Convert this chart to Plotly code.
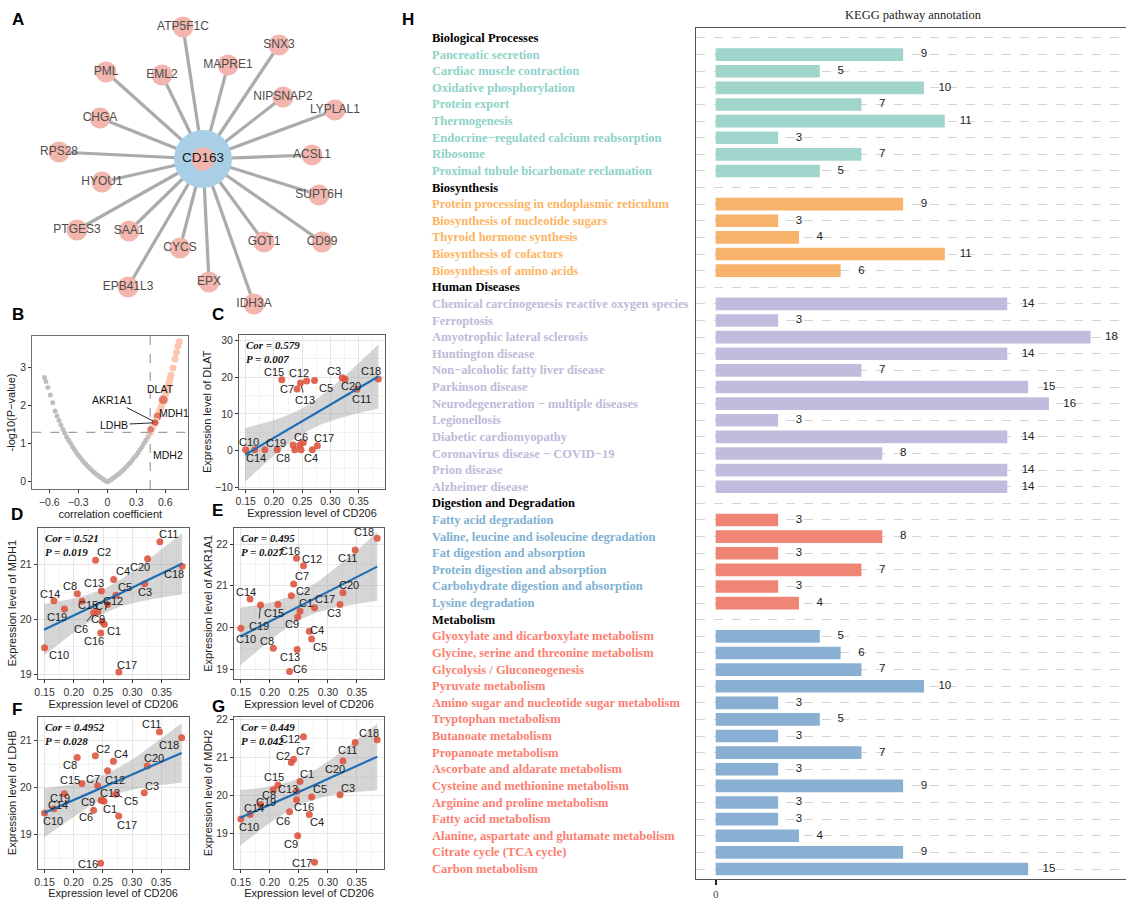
import plotly.graph_objects as go
import math

W, H = 1126, 899
SANS = "Liberation Sans, Arial, sans-serif"
SERIF = "Liberation Serif, Times New Roman, serif"


def xdom(l, r):
    return [l / W, r / W]


def ydom(t, b):
    return [1 - b / H, 1 - t / H]


# ---------------- Panel A : network ----------------
hub_name = "CD163"
hub_xy = [203, 159]
net_genes = ["ATP5F1C", "SNX3", "PML", "EML2", "MAPRE1", "NIPSNAP2", "LYPLAL1", "CHGA",
             "RPS28", "ACSL1", "HYOU1", "SUPT6H", "PTGES3", "SAA1", "CYCS", "GOT1",
             "CD99", "EPB41L3", "EPX", "IDH3A"]
layout_x = [183, 279, 106, 162, 228, 283, 335, 100, 59, 312, 102, 319, 77, 129, 180, 264,
            322, 128, 209, 254]
layout_y = [27, 45, 72, 75, 65, 97, 110, 118, 152, 155, 182, 195, 230, 231, 248, 242,
            242, 287, 282, 304]

# ---------------- Panel B : correlation volcano ----------------
gray_r = [-0.65, -0.635, -0.615, -0.59, -0.565, -0.54, -0.52, -0.50, -0.48, -0.46, -0.44,
          -0.42, -0.40, -0.38, -0.36, -0.34, -0.32, -0.30, -0.28, -0.26, -0.24, -0.22,
          -0.20, -0.18, -0.16, -0.14, -0.12, -0.10, -0.08, -0.06, -0.04, -0.02, 0.00,
          0.02, 0.04, 0.06, 0.08, 0.10, 0.12, 0.14, 0.16, 0.18, 0.20, 0.22, 0.24, 0.26,
          0.28, 0.30, 0.32, 0.34, 0.36, 0.38, 0.40, 0.42, 0.43]
gray_logp = [2.74, 2.64, 2.48, 2.28, 2.08, 1.86, 1.73, 1.61, 1.49, 1.38, 1.28,
             1.18, 1.09, 1.01, 0.92, 0.85, 0.77, 0.70, 0.64, 0.57, 0.51, 0.46,
             0.40, 0.35, 0.30, 0.25, 0.21, 0.17, 0.13, 0.10, 0.06, 0.03, 0.00,
             0.03, 0.06, 0.10, 0.13, 0.17, 0.21, 0.25, 0.30, 0.35, 0.40, 0.46, 0.51, 0.57,
             0.64, 0.70, 0.77, 0.85, 0.92, 1.01, 1.09, 1.18, 1.23]
sig_r = [0.44, 0.45, 0.46, 0.47, 0.48, 0.49, 0.50, 0.51, 0.52, 0.53, 0.54, 0.55, 0.56,
         0.57, 0.58, 0.59, 0.60, 0.61, 0.62, 0.63, 0.64, 0.65, 0.66, 0.68, 0.70, 0.715,
         0.73, 0.745]
sig_logp = [1.28, 1.33, 1.38, 1.44, 1.49, 1.55, 1.61, 1.67, 1.73, 1.79, 1.86, 1.92, 1.99,
            2.06, 2.13, 2.20, 2.28, 2.36, 2.44, 2.52, 2.61, 2.72, 2.80, 2.99, 3.23, 3.40,
            3.57, 3.68]
hl_genes = ["DLAT", "MDH1", "AKR1A1", "LDHB", "MDH2"]
hl_cor = [0.579, 0.521, 0.495, 0.4952, 0.449]
hl_p = [0.007, 0.019, 0.027, 0.028, 0.042]
r_cut = 0.444
p_cut = 0.05

# ---------------- Panels C-G : scatter ----------------
samples = ["C%d" % i for i in range(1, 21)]
cd206 = [0.252, 0.237, 0.321, 0.268, 0.272, 0.234, 0.241, 0.206, 0.248, 0.150,
         0.347, 0.258, 0.247, 0.166, 0.214, 0.246, 0.277, 0.385, 0.184, 0.326]
dlat = [2.2, 0.2, 19.9, 0.2, 19.1, 1.5, 16.8, 0.2, 0.2, 0.2,
        16.7, 19.0, 18.45, 0.2, 19.3, 1.5, 1.3, 19.55, 0.2, 19.45]
mdh1 = [19.91, 21.08, 20.65, 20.73, 20.44, 20.12, 20.14, 20.47, 19.96, 19.48,
        21.42, 20.27, 20.52, 20.34, 20.33, 19.75, 19.04, 20.97, 20.19, 21.11]
akr1a1 = [20.39, 20.76, 20.55, 19.91, 19.72, 18.94, 21.04, 19.50, 20.25, 19.98,
          21.86, 21.48, 19.47, 20.68, 20.55, 21.66, 20.47, 22.14, 20.54, 20.83]
ldhb = [19.71, 20.68, 19.89, 20.56, 19.86, 19.52, 20.04, 20.64, 19.73, 19.46,
        21.19, 20.36, 19.73, 19.55, 20.09, 18.39, 19.40, 21.06, 19.87, 20.46]
mdh2 = [20.36, 20.86, 20.01, 19.49, 19.95, 19.56, 20.95, 20.14, 18.93, 19.37,
        21.39, 21.54, 20.10, 19.49, 20.27, 19.88, 18.23, 21.46, 19.75, 20.90]

fit_x = [0.149, 0.17, 0.20, 0.23, 0.254, 0.28, 0.31, 0.34, 0.36, 0.385]
dlat_fit = [-1.2, 0.7, 3.42, 6.15, 8.32, 10.68, 13.40, 16.12, 17.93, 20.2]
dlat_lo = [-8.5, -5.5, -1.38, 2.37, 4.83, 6.85, 8.51, 9.81, 10.59, 11.47]
dlat_hi = [6.1, 6.9, 8.22, 9.93, 11.81, 14.51, 18.29, 22.43, 25.27, 28.93]
mdh1_fit = [19.81, 19.92, 20.07, 20.23, 20.35, 20.48, 20.64, 20.79, 20.89, 21.02]
mdh1_lo = [19.34, 19.52, 19.76, 19.98, 20.12, 20.24, 20.32, 20.38, 20.42, 20.46]
mdh1_hi = [20.28, 20.32, 20.38, 20.47, 20.57, 20.73, 20.95, 21.20, 21.37, 21.58]
akr_fit = [19.78, 19.93, 20.14, 20.36, 20.53, 20.71, 20.93, 21.14, 21.28, 21.46]
akr_lo = [19.09, 19.34, 19.69, 20.00, 20.20, 20.35, 20.47, 20.54, 20.59, 20.64]
akr_hi = [20.47, 20.52, 20.59, 20.72, 20.86, 21.07, 21.39, 21.74, 21.97, 22.29]
ldhb_fit = [19.46, 19.57, 19.74, 19.90, 20.03, 20.17, 20.33, 20.50, 20.60, 20.74]
ldhb_lo = [18.94, 19.12, 19.39, 19.63, 19.78, 19.89, 19.98, 20.05, 20.07, 20.11]
ldhb_hi = [19.99, 20.02, 20.08, 20.17, 20.28, 20.45, 20.68, 20.95, 21.13, 21.37]
mdh2_fit = [19.40, 19.54, 19.75, 19.95, 20.12, 20.29, 20.50, 20.70, 20.84, 21.01]
mdh2_lo = [18.67, 18.92, 19.27, 19.57, 19.77, 19.90, 20.01, 20.07, 20.10, 20.13]
mdh2_hi = [20.14, 20.16, 20.23, 20.33, 20.47, 20.68, 20.99, 21.34, 21.58, 21.89]

# label offsets (pixels) for the repelled sample labels, C1..C20
offs_c = [None, None, (-8, -7), (-1, 8), (11, 7), (8, -8), (-10, 0), (6, 8), None, (3, -8),
          (5, 10), (-8, -8), (5, 17), (1, 8), (-8, -8), None, (7, -8), (-7, -8), (11, -7), (6, 7)]
offs_d = [(10, 7), (8, -8), (0, 8), (9, -8), (9, -8), (-13, 16), (4, -6), (-7, -8), (-4, -3), (14, 7),
          (9, -8), (5, -4), (-7, -8), (-4, -7), (6, 4), (-7, 8), (8, -7), (-8, 8), (-7, 8), (-8, 8)]
offs_e = [(6, -8), (12, -5), (-6, 8), (8, -1), (8, 8), (10, -3), (8, -8), (-6, -7), (-6, 7), (5, 11),
          (-8, 8), (9, -7), (-7, 8), (-4, -7), (-4, 8), (-7, -7), (10, -9), (-13, -6), (-2, 21), (6, -8)]
offs_f = [(6, 8), (8, -7), (8, -7), (8, -7), (15, 7), (-8, 7), (-5, -7), (-7, 7), (-14, 2), (8, 8),
          (-8, -8), (7, 9), (9, -7), (4, -4), (-12, -3), (-13, 1), (8, 9), (-13, 7), (-4, 4), (7, -8)]
offs_g = [(7, -7), (-8, -7), (8, -7), (8, 8), (8, -8), (-7, 9), (9, -8), (-4, 5), (-7, 8), (8, 8),
          (-8, 8), (-13, 2), (-9, -2), (4, -6), (-4, -8), (7, 7), (-13, 1), (-8, -7), (5, -3), (-8, 8)]

# ---------------- Panel H : KEGG ----------------
group_names = ["Biological Processes", "Biosynthesis", "Human Diseases",
               "Digestion and Degradation", "Metabolism"]
bio_terms = ["Pancreatic secretion", "Cardiac muscle contraction", "Oxidative phosphorylation",
             "Protein export", "Thermogenesis", "Endocrine\u2212regulated calcium reabsorption",
             "Ribosome", "Proximal tubule bicarbonate reclamation"]
bio_counts = [9, 5, 10, 7, 11, 3, 7, 5]
syn_terms = ["Protein processing in endoplasmic reticulum", "Biosynthesis of nucleotide sugars",
             "Thyroid hormone synthesis", "Biosynthesis of cofactors", "Biosynthesis of amino acids"]
syn_counts = [9, 3, 4, 11, 6]
dis_terms = ["Chemical carcinogenesis reactive oxygen species", "Ferroptosis",
             "Amyotrophic lateral sclerosis", "Huntington disease",
             "Non\u2212alcoholic fatty liver disease", "Parkinson disease",
             "Neurodegeneration \u2212 multiple diseases", "Legionellosis",
             "Diabetic cardiomyopathy", "Coronavirus disease \u2212 COVID\u221219",
             "Prion disease", "Alzheimer disease"]
dis_counts = [14, 3, 18, 14, 7, 15, 16, 3, 14, 8, 14, 14]
dig_terms = ["Fatty acid degradation", "Valine, leucine and isoleucine degradation",
             "Fat digestion and absorption", "Protein digestion and absorption",
             "Carbohydrate digestion and absorption", "Lysine degradation"]
dig_counts = [3, 8, 3, 7, 3, 4]
met_terms = ["Glyoxylate and dicarboxylate metabolism", "Glycine, serine and threonine metabolism",
             "Glycolysis / Gluconeogenesis", "Pyruvate metabolism",
             "Amino sugar and nucleotide sugar metabolism", "Tryptophan metabolism",
             "Butanoate metabolism", "Propanoate metabolism", "Ascorbate and aldarate metabolism",
             "Cysteine and methionine metabolism", "Arginine and proline metabolism",
             "Fatty acid metabolism", "Alanine, aspartate and glutamate metabolism",
             "Citrate cycle (TCA cycle)", "Carbon metabolism"]
met_counts = [5, 6, 7, 10, 3, 5, 3, 7, 3, 9, 3, 3, 4, 9, 15]
label_colors = ["#8DD3C7", "#FDB462", "#BEBADA", "#80B1D3", "#FB8072"]
bar_colors = ["#A0D5CB", "#F7B26B", "#C1BCDD", "#EF8675", "#89B0D3"]

# =====================================================
fig = go.Figure()
ann = []
shapes = []

# ---- A
ex, ey = [], []
for gx, gy in zip(layout_x, layout_y):
    ex += [gx, hub_xy[0], None]
    ey += [gy, hub_xy[1], None]
fig.add_trace(go.Scatter(x=ex, y=ey, mode="lines", line=dict(color="#ABABAB", width=3.2),
                         xaxis="x", yaxis="y", hoverinfo="skip"))
fig.add_trace(go.Scatter(x=[hub_xy[0]], y=[hub_xy[1]], mode="markers",
                         marker=dict(size=58, color="#A9CFE7"), xaxis="x", yaxis="y"))
fig.add_trace(go.Scatter(x=[hub_xy[0]], y=[hub_xy[1]], mode="markers+text",
                         marker=dict(size=23, color="#F2B6AE"), text=[hub_name],
                         textposition="middle center",
                         textfont=dict(family=SANS, size=13.5, color="#1a1a1a"),
                         xaxis="x", yaxis="y"))
fig.add_trace(go.Scatter(x=layout_x, y=layout_y, mode="markers+text",
                         marker=dict(size=21, color="#F2B6AE"), text=net_genes,
                         textposition="middle center",
                         textfont=dict(family=SANS, size=12, color="#4D4D4D"),
                         xaxis="x", yaxis="y"))

# ---- B
fig.add_trace(go.Scatter(x=gray_r, y=gray_logp, mode="markers",
                         marker=dict(size=5, color="#BEBEBE"), xaxis="x2", yaxis="y2"))
fig.add_trace(go.Scatter(x=sig_r, y=sig_logp, mode="markers",
                         marker=dict(size=7, color="#FCC6B1"), xaxis="x2", yaxis="y2"))
hl_y = [-math.log10(p) for p in hl_p]
fig.add_trace(go.Scatter(x=hl_cor, y=hl_y, mode="markers",
                         marker=dict(size=[10, 9, 8, 8, 8], color="#DB5A42"),
                         xaxis="x2", yaxis="y2"))
b_offs = [(-3, -11), (16, -3), (-43, -22), (-41, 2), (17, 26)]
b_lead = [False, False, True, True, True]
for g, xv, yv, (ox, oy), ld in zip(hl_genes, hl_cor, hl_y, b_offs, b_lead):
    ann.append(dict(x=xv, y=yv, xref="x2", yref="y2", text=g, showarrow=True, ax=ox, ay=oy,
                    arrowhead=0, arrowwidth=0.9, standoff=2,
                    arrowcolor="#111" if ld else "rgba(0,0,0,0)",
                    font=dict(family=SANS, size=10.5, color="#111")))
shapes.append(dict(type="line", xref="x2", yref="y2 domain", x0=r_cut, x1=r_cut, y0=0, y1=1,
                   line=dict(color="#9E9E9E", width=1.2, dash="dash")))
shapes.append(dict(type="line", xref="x2 domain", yref="y2", x0=0, x1=1,
                   y0=-math.log10(p_cut), y1=-math.log10(p_cut),
                   line=dict(color="#9E9E9E", width=1.2, dash="dash")))

# ---- C-G
panels = [
    (3, "DLAT", dlat, dlat_fit, dlat_lo, dlat_hi, "0.579", "0.007", offs_c, {"C13"},
     [-10.41, 31.56], 10, 5, (239, 385, 335, 488.5)),
    (4, "MDH1", mdh1, mdh1_fit, mdh1_lo, mdh1_hi, "0.521", "0.019", offs_d, {"C6"},
     [18.91, 21.68], 1, 0.5, (37.7, 189, 527.5, 679)),
    (5, "AKR1A1", akr1a1, akr_fit, akr_lo, akr_hi, "0.495", "0.027", offs_e, {"C19"},
     [18.76, 22.40], 1, 0.5, (234, 384, 527.5, 679)),
    (6, "LDHB", ldhb, ldhb_fit, ldhb_lo, ldhb_hi, "0.4952", "0.028", offs_f, {"C5"},
     [18.27, 21.51], 1, 0.5, (37.7, 188.5, 716.7, 869)),
    (7, "MDH2", mdh2, mdh2_fit, mdh2_lo, mdh2_hi, "0.449", "0.042", offs_g, set(),
     [18.05, 22.07], 1, 0.5, (234, 384, 716.7, 869)),
]

x_lo, x_hi = min(cd206), max(cd206)
x_pad = 0.05 * (x_hi - x_lo)
scatter_xrange = [x_lo - x_pad, x_hi + x_pad]

layout_axes = {}
for idx, gene, vals, fit, lo, hi, cor, pv, offs, leaders, yr, dt, mdt, box in panels:
    xa, ya = "x%d" % idx, "y%d" % idx
    fig.add_trace(go.Scatter(x=fit_x, y=lo, mode="lines", line=dict(width=0),
                             xaxis=xa, yaxis=ya, hoverinfo="skip"))
    fig.add_trace(go.Scatter(x=fit_x, y=hi, mode="lines", line=dict(width=0), fill="tonexty",
                             fillcolor="rgba(150,150,150,0.40)", xaxis=xa, yaxis=ya,
                             hoverinfo="skip"))
    fig.add_trace(go.Scatter(x=cd206, y=vals, mode="markers",
                             marker=dict(size=7, color="rgba(221,82,60,0.88)"),
                             xaxis=xa, yaxis=ya))
    fig.add_trace(go.Scatter(x=fit_x, y=fit, mode="lines", line=dict(color="#1F6EB5", width=2.2),
                             xaxis=xa, yaxis=ya))
    for s, xv, yv, o in zip(samples, cd206, vals, offs):
        if o is None:
            continue
        ann.append(dict(x=xv, y=yv, xref=xa, yref=ya, text=s, showarrow=True, ax=o[0], ay=o[1],
                        arrowhead=0, arrowwidth=0.9, standoff=3,
                        arrowcolor="#222" if s in leaders else "rgba(0,0,0,0)",
                        font=dict(family=SANS, size=11, color="#222")))
    ann.append(dict(x=0.035, y=0.985, xref=xa + " domain", yref=ya + " domain",
                    xanchor="left", yanchor="top", align="left", showarrow=False,
                    text="<b><i>Cor = %s</i></b><br><b><i>P = %s</i></b>" % (cor, pv),
                    font=dict(family=SERIF, size=11, color="#111")))
    l, r, t, b = box
    layout_axes["xaxis%d" % idx] = dict(
        domain=xdom(l, r), range=scatter_xrange, anchor=ya, tick0=0.15, dtick=0.05,
        tickformat=".2f", showgrid=True, gridcolor="#E6E6E6", gridwidth=0.9,
        minor=dict(dtick=0.025, tick0=0.125, showgrid=True, gridcolor="#F3F3F3", gridwidth=0.6),
        zeroline=False, showline=True, mirror=True, linecolor="#5E5E5E", linewidth=1,
        ticks="outside", ticklen=3, tickcolor="#333",
        tickfont=dict(family=SANS, size=10.5, color="#333"),
        title=dict(text="Expression level of CD206", standoff=1,
                   font=dict(family=SANS, size=11, color="#1a1a1a")))
    layout_axes["yaxis%d" % idx] = dict(
        domain=ydom(t, b), range=yr, anchor=xa, dtick=dt, tick0=0, showgrid=True,
        gridcolor="#E6E6E6", gridwidth=0.9,
        minor=dict(dtick=mdt, tick0=0, showgrid=True, gridcolor="#F3F3F3", gridwidth=0.6),
        zeroline=False, showline=True, mirror=True, linecolor="#5E5E5E", linewidth=1,
        ticks="outside", ticklen=3, tickcolor="#333",
        tickfont=dict(family=SANS, size=10.5, color="#333"),
        title=dict(text="Expression level of %s" % gene, standoff=1,
                   font=dict(family=SANS, size=11, color="#1a1a1a")))

# ---- H
groups = [(bio_terms, bio_counts), (syn_terms, syn_counts), (dis_terms, dis_counts),
          (dig_terms, dig_counts), (met_terms, met_counts)]
row = 0
bar_y, bar_x, bar_c = [], [], []
for gi, (terms, counts) in enumerate(groups):
    ann.append(dict(x=430 / W, y=row, xref="paper", yref="y8", xanchor="left",
                    yanchor="middle", showarrow=False,
                    text="<b>%s</b>" % group_names[gi],
                    font=dict(family=SERIF, size=12.5, color="#000")))
    row += 1
    for term, c in zip(terms, counts):
        ann.append(dict(x=430 / W, y=row, xref="paper", yref="y8", xanchor="left",
                        yanchor="middle", showarrow=False, text="<b>%s</b>" % term,
                        font=dict(family=SERIF, size=12.5, color=label_colors[gi])))
        bar_y.append(row)
        bar_x.append(c)
        bar_c.append(bar_colors[gi])
        row += 1
n_rows = row
fig.add_trace(go.Bar(x=bar_x, y=bar_y, orientation="h", width=0.76,
                     marker=dict(color=bar_c, line=dict(width=0)), xaxis="x8", yaxis="y8"))
fig.add_trace(go.Scatter(x=[c + 1 for c in bar_x], y=bar_y, mode="text",
                         text=[str(c) for c in bar_x], textposition="middle center",
                         textfont=dict(family=SANS, size=11.5, color="#222"),
                         xaxis="x8", yaxis="y8", cliponaxis=False))
ann.append(dict(x=913 / W, y=1 - 15 / H, xref="paper", yref="paper", showarrow=False,
                xanchor="center", yanchor="middle",
                text="KEGG pathway annotation",
                font=dict(family=SERIF, size=12.5, color="#222")))

# panel letters
for lt, px, py in [("A", 17.5, 19), ("B", 18, 315), ("C", 218, 315), ("D", 17, 514),
                   ("E", 217, 511), ("F", 17, 709), ("G", 218, 706), ("H", 408, 20)]:
    ann.append(dict(x=px / W, y=1 - py / H, xref="paper", yref="paper", showarrow=False,
                    xanchor="center", yanchor="middle",
                    text="<b>%s</b>" % lt, font=dict(family=SANS, size=17, color="#000")))

fig.update_layout(
    width=W, height=H, margin=dict(l=0, r=0, t=0, b=0, pad=0, autoexpand=False),
    paper_bgcolor="white",
    plot_bgcolor="white", showlegend=False, barmode="overlay", hovermode=False,
    annotations=ann, shapes=shapes,
    xaxis=dict(domain=xdom(0, 400), range=[0, 400], visible=False, anchor="y"),
    yaxis=dict(domain=ydom(0, 330), range=[330, 0], visible=False, anchor="x"),
    xaxis2=dict(domain=xdom(32.3, 188.3), range=[-0.776, 0.838], anchor="y2",
                tickvals=[-0.6, -0.3, 0, 0.3, 0.6], showgrid=False, zeroline=False,
                showline=True, mirror=True, linecolor="#6E6E6E", linewidth=1,
                ticks="outside", ticklen=3, tickcolor="#333",
                tickfont=dict(family=SANS, size=10.5, color="#333"),
                title=dict(text="correlation coefficient", standoff=1,
                           font=dict(family=SANS, size=11, color="#1a1a1a"))),
    yaxis2=dict(domain=ydom(336, 489), range=[-0.19, 3.834], anchor="x2",
                tickvals=[0, 1, 2, 3], showgrid=False, zeroline=False,
                showline=True, mirror=True, linecolor="#6E6E6E", linewidth=1,
                ticks="outside", ticklen=3, tickcolor="#333",
                tickfont=dict(family=SANS, size=10.5, color="#333"),
                title=dict(text="-log10(P\u2212value)", standoff=2,
                           font=dict(family=SANS, size=11, color="#1a1a1a"))),
    xaxis8=dict(domain=[696.3 / W, 1.0], range=[-0.93, 19.70], anchor="y8",
                tickvals=[0], ticktext=["0"], showgrid=False, zeroline=False,
                showline=True, mirror=True, linecolor="#555", linewidth=1.3,
                ticks="outside", ticklen=5, tickwidth=1.6, tickcolor="#222",
                tickfont=dict(family=SERIF, size=11, color="#444")),
    yaxis8=dict(domain=ydom(28, 879), range=[n_rows - 1 + 0.6, -0.6], anchor="x8",
                tickvals=list(range(n_rows)), showticklabels=False, ticks="",
                showgrid=True, gridcolor="#D4D4D4", gridwidth=1, griddash="dash",
                zeroline=False, showline=True, linecolor="#555", linewidth=1.3),
    **layout_axes,
)

fig.write_html("out.html", config={"displayModeBar": False},
               post_script="document.body.style.margin='0px';"
                           "document.body.style.overflow='hidden';")
